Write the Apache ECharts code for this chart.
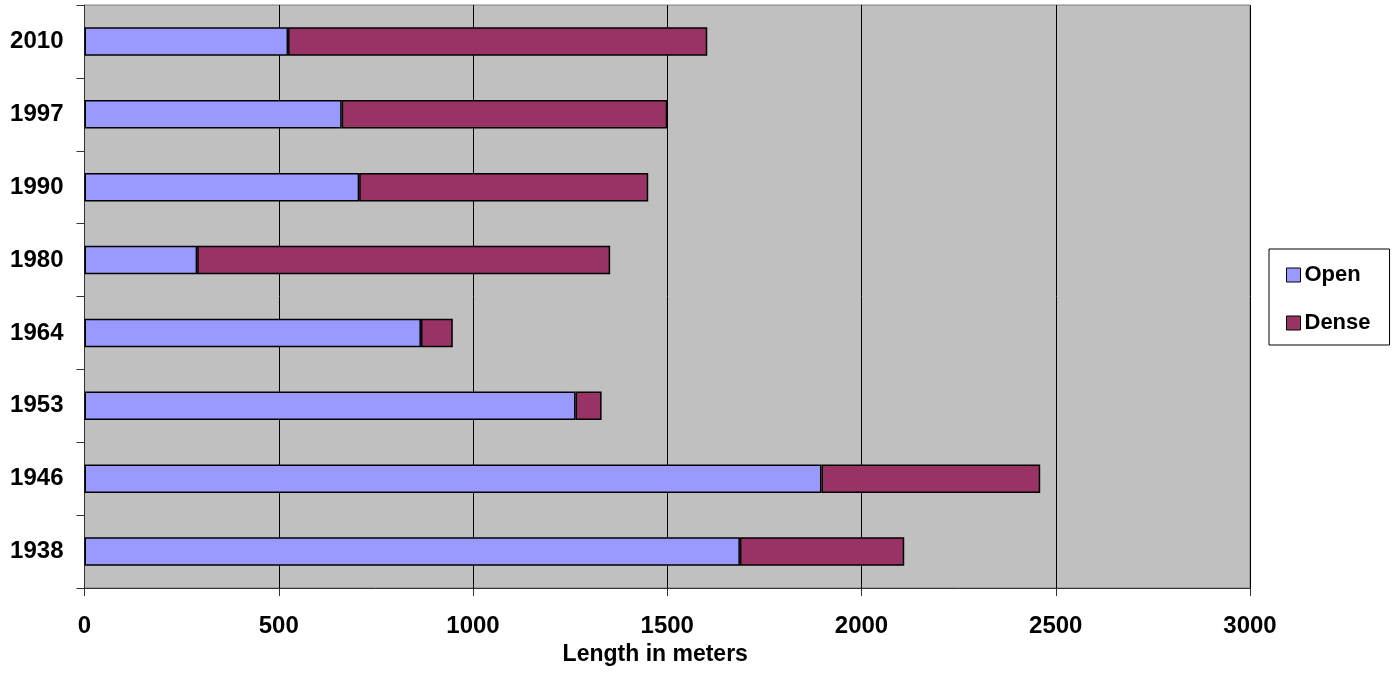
<!DOCTYPE html>
<html>
<head>
<meta charset="utf-8">
<script src="https://cdn.jsdelivr.net/npm/echarts@6/dist/echarts.min.js"></script>
<style>
html,body{margin:0;padding:0;background:#fff;}
#chart{width:1398px;height:681px;}
</style>
</head>
<body>
<div id="chart"></div>
<script>
const years = ['1938', '1946', '1953', '1964', '1980', '1990', '1997', '2010'];
const openValues = [1687, 1897, 1264, 866, 290, 707, 662, 524];
const denseValues = [423, 563, 67, 82, 1063, 744, 838, 1079];
const xTicks = [0, 500, 1000, 1500, 2000, 2500, 3000];

const FONT = '"Liberation Sans", Arial, sans-serif';
const chart = echarts.init(document.getElementById('chart'), null, {renderer: 'canvas'});
chart.setOption({
  animation: false,
  backgroundColor: '#ffffff',
  textStyle: {fontFamily: FONT},
  grid: {
    left: 84.5, right: 148, top: 5, bottom: 93,
    show: true, backgroundColor: '#C0C0C0',
    borderColor: '#808080', borderWidth: 1
  },
  legend: {
    orient: 'vertical',
    left: 1269, top: 249,
    backgroundColor: '#ffffff',
    borderColor: '#000000', borderWidth: 1,
    padding: [15, 19, 11, 17],
    itemGap: 26,
    itemWidth: 14, itemHeight: 14,
    icon: 'rect',
    itemStyle: {borderColor: '#000000', borderWidth: 1},
    textStyle: {fontFamily: FONT, fontSize: 22, fontWeight: 'bold', color: '#000', padding: [0, 0, 0, -1]},
    data: ['Open', 'Dense']
  },
  xAxis: {
    type: 'value',
    min: xTicks[0], max: xTicks[xTicks.length - 1], interval: 500,
    name: 'Length in meters',
    nameLocation: 'middle',
    nameGap: 48,
    nameTextStyle: {fontFamily: FONT, fontSize: 23, fontWeight: 'bold', color: '#000', padding: [0, 24, 0, 0]},
    axisLine: {show: true, lineStyle: {color: '#333', width: 1}},
    axisTick: {show: true, length: 8, lineStyle: {color: '#333'}},
    axisLabel: {fontFamily: FONT, fontSize: 24, fontWeight: 'bold', color: '#000', margin: 26,
      formatter: function (v) { return String(v); }},
    splitLine: {show: true, lineStyle: {color: '#000', width: 1}}
  },
  yAxis: {
    type: 'category',
    data: years,
    axisLine: {show: true, lineStyle: {color: '#333', width: 1}},
    axisTick: {show: true, length: 8, lineStyle: {color: '#333'}},
    axisLabel: {fontFamily: FONT, fontSize: 24, fontWeight: 'bold', color: '#000', margin: 21,
      padding: [4, 0, 0, 0]},
    splitLine: {show: false}
  },
  series: [
    {
      name: 'Open', type: 'bar', stack: 'total',
      data: openValues, barWidth: '39%',
      itemStyle: {color: '#9999FF', borderColor: '#000', borderWidth: 1.5}
    },
    {
      name: 'Dense', type: 'bar', stack: 'total',
      data: denseValues, barWidth: '39%',
      itemStyle: {color: '#993366', borderColor: '#000', borderWidth: 1.5}
    }
  ]
});
</script>
</body>
</html>
